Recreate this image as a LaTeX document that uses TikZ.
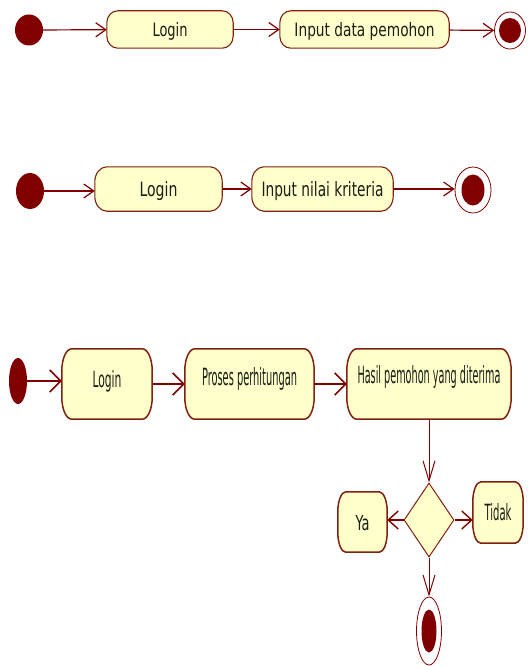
\documentclass[tikz,border=0pt]{standalone}
\usepackage{fontspec}
\setmainfont{DejaVu Sans}
\usetikzlibrary{arrows.meta,shapes.geometric,backgrounds}
\definecolor{umlred}{RGB}{128,0,0}
\definecolor{umlbox}{RGB}{255,255,204}
\definecolor{umledge}{RGB}{128,32,16}
\definecolor{umltext}{RGB}{25,30,20}
\newcommand\actshape[4][]{\draw[boxline,#1] ([xshift=#3]#2.north west) -- ([xshift=-#3]#2.north east) arc[start angle=90,end angle=0,x radius=#3,y radius=#4] -- ([yshift=#4]#2.south east) arc[start angle=0,end angle=-90,x radius=#3,y radius=#4] -- ([xshift=#3]#2.south west) arc[start angle=-90,end angle=-180,x radius=#3,y radius=#4] -- ([yshift=-#4]#2.north west) arc[start angle=180,end angle=90,x radius=#3,y radius=#4] -- cycle;}
\newcommand\lbl[4]{\raisebox{#4pt}[0pt][0pt]{\resizebox{#1pt}{#2pt}{#3}}}
\tikzset{
 act/.style={rectangle, inner sep=0pt, draw=none, text=umltext},
 startnode/.style={ellipse, fill=umlred, inner sep=0pt},
 endnode/.style={ellipse, draw=umlred, fill=white, line width=0.8pt, inner sep=0pt},
 boxline/.style={draw=umledge, fill=umlbox, line width=1.1pt},
 thickbox/.style={line width=1.5pt},
 flow/.style={draw=umlred, line width=1.2pt, -{Straight Barb[length=10pt,width=14pt]}},
 flowb/.style={draw=umlred, line width=1.6pt, -{Straight Barb[length=11pt,width=22pt]}},
 flowv/.style={draw=umlred, line width=1pt, -{Straight Barb[length=20pt,width=12pt]}},
 flowd/.style={draw=umlred, line width=1.4pt, -{Straight Barb[length=10pt,width=18pt]}},
 decision/.style={diamond, draw=umledge, fill=umlbox, line width=1pt, inner sep=0pt},
}
\begin{document}
\begin{tikzpicture}[x=1pt,y=-1pt]
\useasboundingbox (0,0) rectangle (527,666);
% row 1
\node[startnode, minimum width=28pt, minimum height=31pt] (s1) at (29,30) {};
\node[act, minimum width=126pt, minimum height=37pt] (a1) at (170,29.5) {\lbl{35}{14}{Login}{-7}};
\node[act, minimum width=169pt, minimum height=37pt] (a2) at (364.5,29.5) {\lbl{140}{14}{Input data pemohon}{-7}};
\node[endnode, minimum width=31pt, minimum height=37pt] (e1) at (510,30.5) {};
\fill[umlred] (e1.center) ellipse [x radius=11pt, y radius=12.5pt];
% row 2
\node[startnode, minimum width=28pt, minimum height=36pt] (s2) at (30,191) {};
\node[act, minimum width=127pt, minimum height=44pt] (b1) at (158.5,189) {\lbl{38}{15}{Login}{-7}};
\node[act, minimum width=141pt, minimum height=44pt] (b2) at (322.5,189) {\lbl{122}{15}{Input nilai kriteria}{-7}};
\node[endnode, minimum width=36pt, minimum height=46pt] (e2) at (473,190) {};
\fill[umlred] (e2.center) ellipse [x radius=11.5pt, y radius=15.5pt];
% row 3
\node[startnode, minimum width=18pt, minimum height=46pt] (s3) at (18,381) {};
\node[act, minimum width=90pt, minimum height=70pt] (c1) at (107,384) {\lbl{29}{17}{Login}{-3}};
\node[act, minimum width=129pt, minimum height=70pt] (c2) at (249.5,384) {\lbl{95}{18}{Proses perhitungan}{-1}};
\node[act, minimum width=164pt, minimum height=70pt] (c3) at (429,384) {\lbl{143}{18}{Hasil pemohon yang diterima}{1}};
\node[decision, minimum width=50pt, minimum height=74pt] (d) at (429,520) {};
\node[act, minimum width=49pt, minimum height=60pt] (ya) at (362.5,522) {\lbl{14}{15}{Ya}{-8}};
\node[act, minimum width=50pt, minimum height=61pt] (td) at (498,512.5) {\lbl{27}{17}{Tidak}{-7.5}};
\node[endnode, minimum width=25pt, minimum height=68pt] (e3) at (429,631) {};
\fill[umlred] (e3.center) ellipse [x radius=7.5pt, y radius=21.5pt];
\begin{pgfonlayer}{background}
\actshape{a1}{11pt}{12pt}
\actshape{a2}{11pt}{12pt}
\actshape{b1}{12pt}{15pt}
\actshape{b2}{12pt}{15pt}
\actshape[thickbox]{c1}{10pt}{22pt}
\actshape[thickbox]{c2}{10pt}{22pt}
\actshape[thickbox]{c3}{10pt}{22pt}
\actshape[thickbox]{ya}{8pt}{20pt}
\actshape[thickbox]{td}{8pt}{20pt}
\end{pgfonlayer}
% connectors
\draw[flow] (s1) -- (a1);
\draw[flow] (a1) -- (a2);
\draw[flow] (a2) -- (e1);
\draw[flow] (s2) -- (s2 -| b1.west);
\draw[flow] (b1) -- (b2);
\draw[flow] (b2.east) -- (b2.east -| e2.west);
\draw[flowb] (s3) -- (s3 -| c1.west);
\draw[flowb] (c1) -- (c2);
\draw[flowb] (c2) -- (c3);
\draw[flowv] (c3.south) -- (d.north);
\draw[flowd] (d.west) -- (d.west -| ya.east);
\draw[flowd] (d.east) -- (d.east -| td.west);
\draw[flowv] (d.south) -- (e3.north);
\end{tikzpicture}
\end{document}
